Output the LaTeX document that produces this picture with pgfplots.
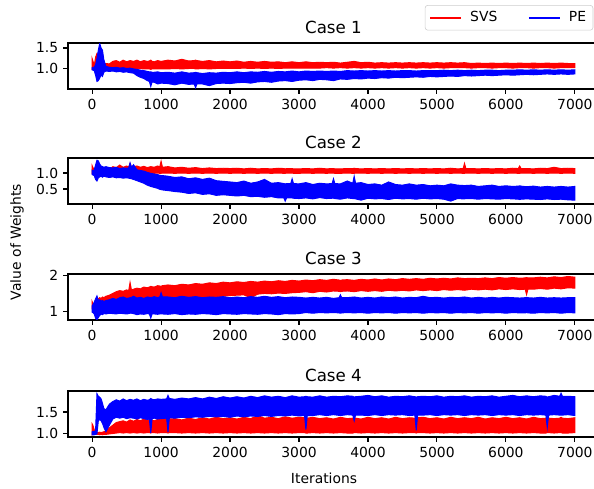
\documentclass[border=0pt]{standalone}
\usepackage{fontspec}
\setmainfont{DejaVu Sans}
\usepackage{pgfplots}
\usepackage{pgfplotstable}
\pgfplotsset{compat=1.18}
\usepgfplotslibrary{fillbetween}

% columns: iteration, SVS low/high, PE low/high (band of the noisy weight)
\pgfplotstableread{
x rlo rhi blo bhi
0 1.00 1.25 0.98 1.03
10 1.02 1.20 0.97 1.04
30 1.00 1.08 0.96 1.04
50 0.99 1.28 0.85 1.10
70 1.00 1.37 0.70 1.25
90 1.01 1.33 0.72 1.45
110 1.03 1.20 0.78 1.61
130 1.04 1.12 0.86 1.50
150 1.04 1.10 0.82 1.45
170 1.05 1.12 0.92 1.22
200 1.04 1.13 0.95 1.06
250 1.03 1.12 0.94 1.04
300 1.02 1.18 0.95 1.03
350 1.02 1.20 0.93 1.04
400 1.01 1.16 0.94 1.02
450 1.02 1.21 0.92 1.03
500 1.01 1.17 0.93 1.01
550 1.00 1.20 0.91 1.02
600 1.01 1.18 0.90 1.00
650 1.00 1.21 0.84 0.99
700 1.01 1.17 0.80 0.97
750 1.00 1.20 0.77 0.96
800 1.00 1.18 0.72 0.94
830 1.00 1.19 0.70 0.93
850 0.99 1.21 0.58 0.93
870 1.00 1.18 0.69 0.92
900 1.00 1.17 0.68 0.92
950 1.00 1.20 0.64 0.93
1000 1.00 1.18 0.66 0.91
1100 1.00 1.21 0.65 0.92
1200 1.01 1.19 0.62 0.90
1300 1.00 1.23 0.66 0.93
1400 1.01 1.19 0.63 0.90
1480 1.01 1.20 0.64 0.91
1500 1.00 1.21 0.55 0.92
1520 1.00 1.20 0.64 0.91
1600 1.01 1.18 0.64 0.89
1700 1.00 1.20 0.60 0.91
1800 1.01 1.17 0.65 0.90
1900 1.01 1.19 0.66 0.92
2000 1.01 1.17 0.65 0.91
2100 1.01 1.19 0.67 0.93
2200 1.02 1.16 0.68 0.91
2300 1.01 1.18 0.66 0.93
2400 1.02 1.16 0.69 0.92
2500 1.01 1.18 0.70 0.94
2600 1.02 1.16 0.68 0.92
2700 1.01 1.17 0.71 0.94
2800 1.02 1.15 0.72 0.93
2900 1.02 1.17 0.70 0.95
3000 1.02 1.15 0.73 0.93
3100 1.02 1.17 0.74 0.95
3200 1.02 1.15 0.72 0.94
3300 1.02 1.16 0.75 0.95
3400 1.03 1.15 0.74 0.94
3500 1.02 1.16 0.72 0.95
3600 1.03 1.14 0.76 0.94
3700 1.02 1.16 0.75 0.96
3800 1.03 1.18 0.77 0.95
3900 1.02 1.15 0.76 0.96
4000 1.03 1.16 0.78 0.95
4100 1.02 1.14 0.77 0.96
4200 1.03 1.15 0.79 0.95
4300 1.02 1.14 0.78 0.96
4400 1.03 1.15 0.80 0.95
4500 1.02 1.14 0.79 0.96
4600 1.03 1.15 0.80 0.96
4700 1.02 1.14 0.81 0.95
4800 1.03 1.15 0.80 0.96
4900 1.02 1.14 0.82 0.96
5000 1.03 1.15 0.81 0.96
5100 1.02 1.14 0.82 0.97
5200 1.03 1.15 0.83 0.96
5300 1.03 1.14 0.82 0.97
5400 1.03 1.15 0.84 0.96
5500 1.02 1.13 0.83 0.97
5600 1.03 1.14 0.84 0.96
5700 1.03 1.13 0.85 0.97
5800 1.02 1.14 0.84 0.97
5900 1.03 1.13 0.85 0.96
6000 1.03 1.14 0.86 0.97
6100 1.02 1.13 0.85 0.97
6200 1.03 1.14 0.86 0.98
6300 1.03 1.13 0.87 0.97
6400 1.02 1.14 0.86 0.98
6500 1.03 1.13 0.87 0.97
6600 1.03 1.14 0.88 0.98
6700 1.02 1.13 0.87 0.97
6800 1.03 1.14 0.88 0.98
6900 1.03 1.13 0.87 0.97
7000 1.03 1.13 0.88 0.98
}\caseA

\pgfplotstableread{
x rlo rhi blo bhi
0 0.99 1.23 0.95 1.08
10 1.00 1.18 0.94 1.06
30 0.99 1.10 0.92 1.10
50 0.98 1.08 0.80 1.25
70 0.99 1.06 0.75 1.40
90 1.00 1.07 0.85 1.38
110 1.00 1.08 0.88 1.28
130 1.00 1.10 0.90 1.22
150 1.00 1.12 0.87 1.20
170 1.00 1.10 0.90 1.18
200 1.00 1.12 0.88 1.20
250 1.00 1.10 0.86 1.17
300 1.00 1.20 0.88 1.16
350 1.00 1.17 0.85 1.18
400 1.00 1.25 0.86 1.14
450 1.00 1.18 0.84 1.16
500 1.00 1.22 0.85 1.15
530 1.00 1.19 0.84 1.16
550 1.00 1.30 0.83 1.32
570 1.00 1.20 0.82 1.18
600 1.00 1.20 0.80 1.26
650 1.00 1.22 0.76 1.10
700 0.99 1.18 0.72 1.08
750 1.00 1.21 0.68 1.06
800 0.99 1.17 0.62 1.02
850 1.00 1.20 0.58 0.99
900 0.99 1.18 0.55 0.97
950 1.00 1.22 0.52 0.95
980 0.99 1.19 0.49 0.93
1000 0.99 1.37 0.48 0.92
1020 1.00 1.18 0.47 0.92
1100 1.00 1.20 0.45 0.90
1200 0.99 1.16 0.42 0.86
1300 1.00 1.18 0.40 0.88
1400 0.99 1.15 0.36 0.82
1500 1.00 1.17 0.38 0.85
1600 0.99 1.14 0.33 0.80
1700 1.00 1.16 0.35 0.84
1800 0.99 1.14 0.30 0.76
1900 1.00 1.15 0.32 0.74
2000 0.99 1.14 0.30 0.72
2100 1.00 1.15 0.28 0.70
2200 0.99 1.13 0.30 0.75
2300 1.00 1.15 0.26 0.68
2400 0.99 1.13 0.27 0.72
2500 1.00 1.14 0.24 0.80
2600 0.99 1.13 0.26 0.68
2700 1.00 1.15 0.22 0.70
2780 0.99 1.14 0.22 0.67
2800 0.99 1.13 0.12 0.66
2820 1.00 1.14 0.22 0.67
2880 1.00 1.14 0.22 0.67
2900 1.00 1.14 0.22 0.82
2920 0.99 1.13 0.21 0.67
3000 0.99 1.13 0.20 0.66
3100 1.00 1.14 0.22 0.70
3200 0.99 1.13 0.19 0.64
3300 1.00 1.15 0.23 0.68
3400 0.99 1.13 0.20 0.66
3480 1.00 1.14 0.21 0.67
3500 1.00 1.14 0.21 0.82
3520 0.99 1.13 0.20 0.67
3600 0.99 1.13 0.18 0.66
3700 1.00 1.14 0.22 0.75
3780 0.99 1.14 0.20 0.68
3800 0.99 1.15 0.20 0.90
3820 1.00 1.14 0.19 0.68
3900 1.00 1.13 0.15 0.70
4000 0.99 1.14 0.21 0.64
4100 1.00 1.13 0.19 0.66
4200 0.99 1.14 0.20 0.62
4300 1.00 1.13 0.17 0.72
4400 0.99 1.14 0.21 0.64
4500 1.00 1.13 0.19 0.62
4600 0.99 1.14 0.20 0.66
4700 1.00 1.13 0.18 0.62
4800 0.99 1.14 0.21 0.64
4900 1.00 1.13 0.19 0.60
5000 0.99 1.14 0.20 0.62
5100 1.00 1.13 0.18 0.60
5200 0.99 1.15 0.12 0.66
5300 1.00 1.13 0.20 0.62
5380 0.99 1.14 0.19 0.61
5400 0.99 1.30 0.19 0.60
5420 1.00 1.14 0.20 0.61
5500 1.00 1.14 0.20 0.62
5600 0.99 1.13 0.18 0.58
5700 1.00 1.14 0.20 0.60
5800 0.99 1.13 0.19 0.62
5900 1.00 1.14 0.18 0.58
6000 0.99 1.13 0.20 0.60
6100 1.00 1.15 0.19 0.58
6180 0.99 1.14 0.18 0.59
6200 0.99 1.22 0.17 0.60
6220 1.00 1.14 0.18 0.59
6300 1.00 1.14 0.19 0.57
6400 0.99 1.13 0.18 0.59
6500 1.00 1.15 0.17 0.56
6600 0.99 1.14 0.19 0.58
6700 1.00 1.18 0.17 0.56
6800 0.99 1.14 0.18 0.58
6900 1.00 1.15 0.16 0.56
7000 0.99 1.14 0.15 0.58
}\caseB

\pgfplotstableread{
x rlo rhi blo bhi
0 1.06 1.27 0.97 1.15
10 1.05 1.22 0.96 1.18
30 1.04 1.20 0.92 1.25
50 1.05 1.25 0.80 1.35
70 1.06 1.30 0.76 1.43
90 1.08 1.35 0.82 1.30
110 1.10 1.38 0.88 1.32
130 1.10 1.36 0.92 1.28
150 1.12 1.40 0.90 1.30
170 1.12 1.38 0.93 1.27
200 1.14 1.42 0.92 1.30
250 1.18 1.45 0.94 1.32
300 1.22 1.50 0.93 1.36
350 1.24 1.55 0.92 1.33
400 1.25 1.58 0.94 1.38
450 1.24 1.56 0.93 1.40
500 1.26 1.60 0.92 1.36
530 1.25 1.58 0.93 1.37
550 1.25 1.81 0.94 1.38
570 1.26 1.60 0.94 1.39
600 1.27 1.62 0.93 1.42
650 1.28 1.65 0.90 1.37
700 1.27 1.63 0.92 1.39
750 1.30 1.68 0.91 1.36
800 1.28 1.66 0.93 1.40
830 1.30 1.68 0.92 1.39
850 1.31 1.70 0.80 1.38
870 1.30 1.69 0.92 1.39
900 1.30 1.68 0.92 1.41
950 1.32 1.72 0.91 1.38
980 1.31 1.71 0.92 1.40
1000 1.30 1.70 0.92 1.52
1020 1.31 1.72 0.92 1.40
1100 1.33 1.74 0.91 1.40
1200 1.28 1.72 0.93 1.38
1300 1.35 1.76 0.90 1.42
1400 1.33 1.74 0.92 1.39
1500 1.36 1.78 0.91 1.41
1600 1.35 1.76 0.93 1.38
1700 1.38 1.80 0.92 1.40
1800 1.40 1.78 0.90 1.39
1900 1.42 1.82 0.93 1.41
2000 1.44 1.80 0.92 1.38
2100 1.45 1.83 0.91 1.40
2200 1.46 1.81 0.93 1.38
2300 1.38 1.84 0.92 1.41
2400 1.48 1.82 0.91 1.39
2500 1.50 1.85 0.93 1.42
2600 1.49 1.83 0.92 1.39
2700 1.51 1.86 0.90 1.41
2800 1.50 1.84 0.93 1.38
2900 1.52 1.87 0.92 1.40
3000 1.53 1.85 0.93 1.39
3100 1.55 1.88 0.96 1.37
3200 1.52 1.86 0.94 1.39
3300 1.56 1.89 0.96 1.37
3400 1.54 1.87 0.95 1.39
3500 1.57 1.90 0.96 1.36
3580 1.56 1.88 0.95 1.38
3600 1.55 1.87 0.94 1.46
3620 1.56 1.88 0.95 1.38
3700 1.57 1.89 0.96 1.38
3800 1.55 1.87 0.95 1.40
3900 1.58 1.90 0.96 1.37
4000 1.56 1.88 0.94 1.39
4100 1.58 1.91 0.96 1.37
4200 1.56 1.88 0.95 1.40
4300 1.59 1.91 0.96 1.38
4400 1.57 1.89 0.94 1.40
4500 1.59 1.92 0.96 1.37
4600 1.57 1.90 0.95 1.39
4700 1.60 1.92 0.96 1.38
4800 1.58 1.90 0.94 1.42
4900 1.60 1.93 0.96 1.38
5000 1.58 1.91 0.95 1.39
5100 1.61 1.93 0.96 1.37
5200 1.59 1.91 0.94 1.39
5300 1.61 1.94 0.96 1.38
5400 1.59 1.92 0.95 1.40
5500 1.62 1.93 0.96 1.37
5600 1.60 1.92 0.94 1.39
5700 1.62 1.94 0.96 1.37
5800 1.60 1.92 0.95 1.39
5900 1.63 1.95 0.96 1.37
6000 1.61 1.93 0.94 1.39
6100 1.63 1.95 0.96 1.38
6200 1.61 1.93 0.95 1.37
6280 1.62 1.94 0.95 1.38
6300 1.47 1.95 0.96 1.39
6320 1.62 1.94 0.95 1.38
6400 1.62 1.94 0.94 1.37
6500 1.64 1.96 0.96 1.39
6600 1.62 1.94 0.95 1.37
6700 1.65 1.97 0.96 1.38
6800 1.63 1.95 0.94 1.37
6900 1.66 1.98 0.96 1.38
7000 1.65 1.96 0.95 1.38
}\caseC

\pgfplotstableread{
x rlo rhi blo bhi
0 0.98 1.23 0.98 1.05
10 0.99 1.20 0.98 1.06
30 0.99 1.10 0.98 1.05
50 0.99 1.05 0.99 1.08
70 0.99 1.04 1.00 1.92
90 0.99 1.03 1.30 1.86
110 0.98 1.04 1.33 1.84
130 0.99 1.03 1.30 1.80
150 0.98 1.04 1.24 1.70
170 0.99 1.05 1.15 1.58
200 0.99 1.06 1.05 1.55
250 1.00 1.14 1.20 1.68
300 1.01 1.20 1.34 1.74
350 1.02 1.26 1.38 1.78
400 1.03 1.28 1.36 1.75
450 1.02 1.30 1.38 1.80
500 1.03 1.27 1.35 1.76
550 1.02 1.32 1.37 1.79
600 1.03 1.29 1.36 1.77
650 1.02 1.33 1.34 1.80
700 1.03 1.30 1.37 1.76
750 1.02 1.34 1.35 1.79
800 1.03 1.31 1.33 1.77
830 1.03 1.31 1.34 1.78
850 1.02 1.35 1.02 1.81
870 1.03 1.31 1.35 1.79
900 1.03 1.30 1.36 1.78
950 1.02 1.33 1.34 1.80
1000 1.03 1.36 1.35 1.79
1080 1.03 1.35 1.36 1.80
1100 1.02 1.33 1.04 1.88
1120 1.03 1.34 1.37 1.81
1200 1.03 1.35 1.36 1.79
1300 1.02 1.32 1.38 1.82
1400 1.03 1.36 1.37 1.80
1500 1.02 1.33 1.39 1.83
1600 1.03 1.37 1.38 1.80
1700 1.02 1.34 1.40 1.84
1800 1.03 1.38 1.39 1.81
1900 1.02 1.35 1.40 1.85
2000 1.03 1.37 1.38 1.82
2100 1.02 1.34 1.41 1.85
2200 1.03 1.38 1.39 1.82
2300 1.02 1.35 1.41 1.86
2400 1.03 1.42 1.40 1.83
2500 1.02 1.36 1.42 1.87
2600 1.03 1.38 1.40 1.84
2700 1.02 1.35 1.42 1.86
2800 1.03 1.39 1.41 1.83
2900 1.02 1.36 1.43 1.87
3000 1.03 1.38 1.41 1.84
3080 1.03 1.37 1.42 1.85
3100 1.02 1.35 1.10 1.86
3120 1.02 1.36 1.42 1.85
3200 1.03 1.38 1.42 1.84
3300 1.02 1.35 1.44 1.87
3400 1.03 1.37 1.42 1.84
3500 1.02 1.34 1.44 1.86
3600 1.03 1.38 1.42 1.85
3700 1.02 1.35 1.44 1.87
3780 1.02 1.36 1.43 1.86
3800 1.03 1.37 1.30 1.84
3820 1.03 1.36 1.43 1.85
3900 1.02 1.34 1.43 1.86
4000 1.03 1.38 1.42 1.88
4100 1.02 1.35 1.44 1.85
4200 1.03 1.37 1.42 1.87
4300 1.02 1.34 1.44 1.84
4400 1.03 1.38 1.43 1.86
4500 1.02 1.35 1.44 1.85
4600 1.03 1.37 1.42 1.87
4680 1.03 1.36 1.43 1.85
4700 1.02 1.35 1.08 1.84
4720 1.03 1.37 1.43 1.85
4800 1.03 1.38 1.43 1.86
4900 1.02 1.35 1.44 1.85
5000 1.03 1.37 1.42 1.87
5100 1.02 1.34 1.44 1.84
5200 1.03 1.38 1.43 1.86
5300 1.02 1.35 1.44 1.85
5400 1.03 1.37 1.42 1.87
5500 1.02 1.35 1.44 1.84
5600 1.03 1.38 1.43 1.86
5700 1.02 1.34 1.44 1.85
5800 1.03 1.37 1.42 1.87
5900 1.02 1.35 1.44 1.84
6000 1.03 1.38 1.43 1.86
6100 1.02 1.35 1.44 1.88
6200 1.03 1.37 1.42 1.85
6300 1.02 1.34 1.44 1.87
6400 1.03 1.38 1.43 1.85
6500 1.02 1.35 1.44 1.87
6580 1.02 1.36 1.43 1.86
6600 1.03 1.37 1.15 1.84
6620 1.03 1.36 1.43 1.85
6700 1.02 1.35 1.44 1.88
6780 1.03 1.36 1.43 1.86
6800 1.03 1.38 1.43 1.93
6820 1.02 1.36 1.43 1.86
6900 1.02 1.35 1.44 1.86
7000 1.03 1.37 1.42 1.85
}\caseD

\pgfplotsset{
  panel/.style={
    anchor=south west,
    scale only axis,
    width=382.3pt, height=33.1pt,
    xmin=-350, xmax=7350,
    xtick={0,1000,...,7000},
    xticklabels={0,1000,2000,3000,4000,5000,6000,7000},
    tick align=outside,
    xtick pos=bottom, ytick pos=left,
    major tick length=3.5pt,
    tick style={black, line width=0.8pt},
    axis line style={line width=0.8pt},
    tick label style={font=\fontsize{10}{12}\selectfont},
    every axis title/.style={at={(0.5,1)}, anchor=south, yshift=3pt,
      font=\fontsize{12}{14}\selectfont},
  },
  band/.style={draw=none, forget plot},
}

% one noisy series drawn as the band between its low and high values
\newcommand{\band}[4]{%
  \addplot[band, name path=lo#4] table[x=x, y=#2] {#1};
  \addplot[band, name path=hi#4] table[x=x, y=#3] {#1};
  \addplot[#4, fill=#4, draw=#4, line width=0.7pt, forget plot] fill between[of=lo#4 and hi#4];
}

\begin{document}
\begin{tikzpicture}

\begin{axis}[panel, at={(48.96pt,288pt)}, title={Case 1},
  ymin=0.52, ymax=1.62, ytick={1,1.5}, yticklabels={1.0,1.5},
  legend columns=2,
  legend style={at={(0.672,1.826)}, anchor=north west,
    font=\fontsize{10}{12}\selectfont, draw=black!20, rounded corners=2pt,
    inner xsep=3pt, inner ysep=2.5pt,
    /tikz/every odd column/.append style={column sep=4pt},
    /tikz/every even column/.append style={column sep=20pt}},
  legend image code/.code={\draw[#1] (0pt,0pt) -- (22pt,0pt);}]
\band{\caseA}{rlo}{rhi}{red}
\band{\caseA}{blo}{bhi}{blue}
\addlegendimage{red, line width=1.5pt}
\addlegendentry{SVS}
\addlegendimage{blue, line width=1.5pt}
\addlegendentry{PE\hspace{10pt}}
\end{axis}

\begin{axis}[panel, at={(48.96pt,205.2pt)}, title={Case 2},
  ymin=0.03, ymax=1.47, ytick={0.5,1}, yticklabels={0.5,1.0}]
\band{\caseB}{rlo}{rhi}{red}
\band{\caseB}{blo}{bhi}{blue}
\end{axis}

\begin{axis}[panel, at={(48.96pt,121.7pt)}, title={Case 3},
  ymin=0.75, ymax=2.05, ytick={1,2}, yticklabels={1,2}]
\band{\caseC}{rlo}{rhi}{red}
\band{\caseC}{blo}{bhi}{blue}
\end{axis}

\begin{axis}[panel, at={(48.96pt,37.44pt)}, title={Case 4},
  ymin=0.93, ymax=1.98, ytick={1,1.5}, yticklabels={1.0,1.5}]
\band{\caseD}{rlo}{rhi}{red}
\band{\caseD}{blo}{bhi}{blue}
\end{axis}

\node[font=\fontsize{10}{12}\selectfont] at (233.3pt,7.9pt) {Iterations};
\node[font=\fontsize{10}{12}\selectfont, rotate=90] at (12.2pt,177.8pt) {Value of Weights};

\pgfresetboundingbox
\path[use as bounding box] (0pt,0pt) rectangle (427.68pt,352.08pt);
\end{tikzpicture}
\end{document}
